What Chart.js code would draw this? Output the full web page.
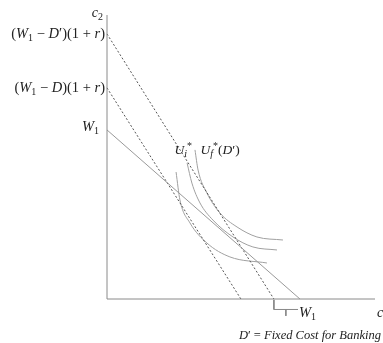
<!DOCTYPE html>
<html><head><meta charset="utf-8">
<script src="https://cdn.jsdelivr.net/npm/chart.js@4"></script>
<style>html,body{margin:0;padding:0;background:#fff}#wrap{width:383px;height:343px}</style>
</head><body><div id="wrap"><canvas id="c" width="383" height="343"></canvas></div>
<script>
// ---- data (units) ----
const xMax = 13.89, yMax = 16.8;
const yTickValues = [15.68, 12.49, 10];
const yTickLabels = ["(W_1 − D′)(1 + r)", "(W_1 − D)(1 + r)", "W_1"];
const xTickValues = [10];
const xTickLabels = ["W_1"];
const yAxisTitle = "c_2", xAxisTitle = "c";
const footnote = "D′ = Fixed Cost for Banking";
const budgetW1 = [{x:0,y:10},{x:10,y:0}];
const budgetD = [{x:0,y:12.49},{x:6.94,y:0}];
const budgetDprime = [{x:0,y:15.68},{x:8.65,y:0}];
const curveA = [{x:3.58,y:7.51},{x:3.78,y:5.86},{x:4.30,y:4.50},{x:5.18,y:3.31},{x:6.37,y:2.49},{x:8.29,y:2.13}];
const curveB = [{x:4.15,y:8.05},{x:4.40,y:6.86},{x:4.82,y:5.68},{x:5.49,y:4.67},{x:6.53,y:3.67},{x:7.56,y:3.08},{x:8.81,y:2.90}];
const curveC = [{x:4.56,y:8.82},{x:4.72,y:7.63},{x:5.18,y:6.27},{x:5.85,y:5.09},{x:6.74,y:4.26},{x:7.77,y:3.67},{x:9.12,y:3.49}];
const curveLabels = ["U_i^*", "U_f^*(D′)"];
const curveLabelPos = [{x:3.50,y:8.8},{x:4.85,y:8.8}];
const bracketPts = [{x:8.65,y:-0.05},{x:8.65,y:-0.62},{x:9.9,y:-0.62}];

function parse(s){
  const out=[];let i=0;
  while(i<s.length){
    const ch=s[i];
    if(ch==='_'){out.push([s[i+1],'sub']);i+=2;continue;}
    if(ch==='^'){out.push([s[i+1],'sup']);i+=2;continue;}
    out.push([ch,/[A-Za-z]/.test(ch)?'i':'n']);i++;
  }
  return out;
}
function fontFor(st,fs,ch){
  const fam='"Liberation Serif","DejaVu Serif",serif';
  const it=/[A-Za-z]/.test(ch)?'italic ':'';
  if(st==='sub'||st==='sup') return `${it}${Math.round(fs*0.72)}px ${fam}`;
  if(st==='i') return `italic ${fs}px ${fam}`;
  return `${fs}px ${fam}`;
}
function drawRich(ctx,s,x,y,align,fs){
  fs=fs||14.5;
  const segs=parse(s);let w=0;
  segs.forEach(g=>{ctx.font=fontFor(g[1],fs,g[0]);w+=ctx.measureText(g[0]).width;});
  let cx = align==='right'? x-w : (align==='center'? x-w/2 : x);
  ctx.textBaseline='middle';ctx.textAlign='left';
  segs.forEach(g=>{
    ctx.font=fontFor(g[1],fs,g[0]);
    const dy = g[1]==='sub'? fs*0.3 : (g[1]==='sup'? -fs*0.3 : 0);
    ctx.fillText(g[0],cx,y+dy);
    cx+=ctx.measureText(g[0]).width;
  });
}
const labelPlugin={id:'labels',afterDraw(chart){
  const ctx=chart.ctx,xs=chart.scales.x,ys=chart.scales.y;
  ctx.save();ctx.fillStyle='#222';
  const x0=xs.getPixelForValue(0), y0=ys.getPixelForValue(0);
  yTickValues.forEach((v,k)=>{
    const off = k===2? -3 : 0;
    drawRich(ctx,yTickLabels[k],x0-(k===2?8:2),ys.getPixelForValue(v)+off,'right',14.5);
  });
  xTickValues.forEach((v,k)=>drawRich(ctx,xTickLabels[k],xs.getPixelForValue(v)-1,y0+14,'left',14.5));
  drawRich(ctx,yAxisTitle,x0-4,ys.getPixelForValue(yMax)-2,'right',14);
  drawRich(ctx,xAxisTitle,x0+273,y0+14,'center',14);
  drawRich(ctx,footnote,381,y0+37,'right',12.5);
  curveLabels.forEach((t,k)=>drawRich(ctx,t,xs.getPixelForValue(curveLabelPos[k].x),ys.getPixelForValue(curveLabelPos[k].y),'left',13.5));
  ctx.restore();
}};
const base={showLine:true,pointRadius:0,fill:false,clip:false};
new Chart(document.getElementById('c'),{
  type:'scatter',
  data:{datasets:[
    {...base,data:[{x:0,y:0},{x:0,y:yMax}],borderColor:'#8a8a8a',borderWidth:1},
    {...base,data:[{x:0,y:0},{x:xMax,y:0}],borderColor:'#8a8a8a',borderWidth:1},
    {...base,data:budgetW1,borderColor:'#999',borderWidth:1},
    {...base,data:budgetD,borderColor:'#555',borderWidth:1,borderDash:[2,2]},
    {...base,data:budgetDprime,borderColor:'#555',borderWidth:1,borderDash:[2,2]},
    {...base,data:curveA,borderColor:'#a0a0a0',borderWidth:1,tension:0.4,cubicInterpolationMode:'monotone'},
    {...base,data:curveB,borderColor:'#a0a0a0',borderWidth:1,tension:0.4,cubicInterpolationMode:'monotone'},
    {...base,data:curveC,borderColor:'#a0a0a0',borderWidth:1,tension:0.4,cubicInterpolationMode:'monotone'},
    {...base,data:bracketPts,borderColor:'#888',borderWidth:1},
    {...base,data:[{x:9.27,y:-0.62},{x:9.27,y:-1.0}],borderColor:'#888',borderWidth:1}
  ]},
  options:{responsive:false,animation:false,events:[],
    layout:{padding:{left:107,right:8,top:15,bottom:44}},
    plugins:{legend:{display:false},tooltip:{enabled:false}},
    scales:{x:{type:'linear',min:0,max:xMax,display:false},y:{type:'linear',min:0,max:yMax,display:false}}
  },
  plugins:[labelPlugin]
});
</script></body></html>
